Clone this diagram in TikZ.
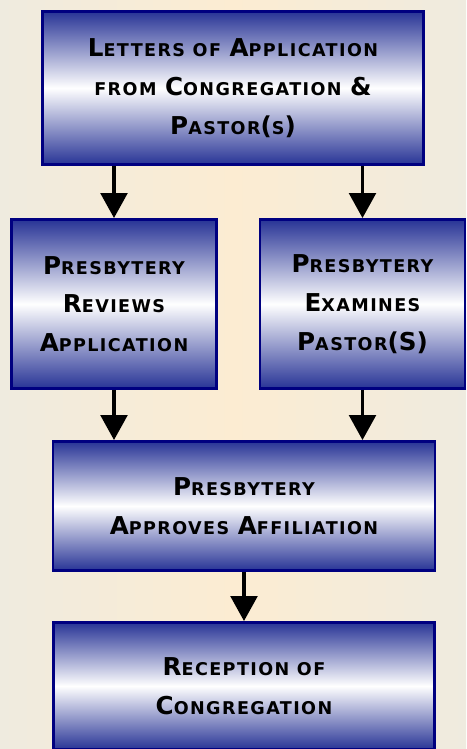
\documentclass[tikz,border=0pt]{standalone}
\usepackage{fontspec}
\newfontfamily\boxfont{DejaVu Sans Bold}
\newfontfamily\smcfont{DejaVu Sans Bold}[LetterSpace=8]
\usepackage{tikz}
\usetikzlibrary{arrows.meta}
\definecolor{boxblue}{RGB}{40,52,150}
\definecolor{boxline}{RGB}{0,0,128}
\definecolor{paperedge}{RGB}{239,235,223}
\definecolor{papermid}{RGB}{252,236,210}
\newcommand{\capfont}{\boxfont\fontsize{21}{33}\selectfont}
\newcommand{\smc}[1]{{\smcfont\fontsize{15}{33}\selectfont #1}}
\tikzset{
	boxstyle/.style={rectangle,draw=boxline,line width=2.5pt,top color=boxblue,bottom color=boxblue,middle color=white,align=center,inner sep=0pt,font=\capfont},
	arrowstyle/.style={line width=3pt,-{Triangle[width=0.8cm,length=0.75cm]}}
}
\begin{document}
\begin{tikzpicture}[x=0.03cm,y=-0.03cm]
	\useasboundingbox (0,0) rectangle (466,749);
	\clip (0,0) rectangle (466,749);
	\shade[left color=paperedge,right color=paperedge,middle color=papermid] (0,0) rectangle (466,749);
	\node[boxstyle,minimum width=11.43cm,minimum height=4.59cm] (letters) at (233,88) {L\smc{ETTERS OF} A\smc{PPLICATION}\\\smc{FROM} C\smc{ONGREGATION} \&\\P\smc{ASTOR}(\smc{S})};
	\node[boxstyle,minimum width=6.15cm,minimum height=5.07cm] (reviews) at (114,304) {P\smc{RESBYTERY}\\R\smc{EVIEWS}\\A\smc{PPLICATION}};
	\node[boxstyle,minimum width=6.15cm,minimum height=5.07cm] (examines) at (362.5,304) {P\smc{RESBYTERY}\\E\smc{XAMINES}\\P\smc{ASTOR}(S)};
	\draw[arrowstyle] (reviews.north |- letters.south)--(reviews.north);
	\draw[arrowstyle] (examines.north |- letters.south)--(examines.north);
	\node[boxstyle,minimum width=11.46cm,minimum height=3.87cm] (approves) at (244,506) {P\smc{RESBYTERY}\\A\smc{PPROVES} A\smc{FFILIATION}};
	\draw[arrowstyle] (reviews.south)--(reviews.south |- approves.north);
	\draw[arrowstyle] (examines.south)--(examines.south |- approves.north);
	\node[boxstyle,minimum width=11.43cm,minimum height=3.81cm] (reception) at (244,686) {R\smc{ECEPTION OF}\\C\smc{ONGREGATION}};
	\draw[arrowstyle] (approves.south)--(reception.north);
\end{tikzpicture}
\end{document}
